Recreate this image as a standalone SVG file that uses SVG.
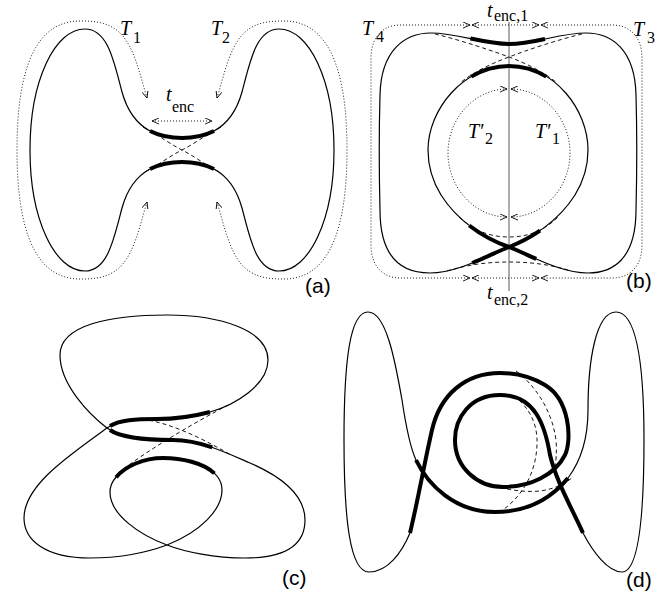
<svg xmlns="http://www.w3.org/2000/svg" width="672" height="593" viewBox="0 0 672 593">
<defs>
<style>
.thin{fill:none;stroke:#000;stroke-width:1.2}
.thick{fill:none;stroke:#000;stroke-width:4}
.dash{fill:none;stroke:#000;stroke-width:0.9;stroke-dasharray:4 3}
.dot{fill:none;stroke:#000;stroke-width:0.9;stroke-dasharray:1 2}
.arr{marker-start:url(#ah);marker-end:url(#ah)}
.gray{fill:none;stroke:#999;stroke-width:1.6}
.it{font-family:"Liberation Serif",serif;font-style:italic;font-size:20px}
.sub{font-family:"Liberation Serif",serif;font-style:normal;font-size:16px}
.lab{font-family:"Liberation Sans",sans-serif;font-size:21px}
</style>
<marker id="ah" viewBox="0 0 8 8" refX="8" refY="4" markerWidth="7" markerHeight="7" markerUnits="userSpaceOnUse" orient="auto-start-reverse">
<path d="M0,0.5 L8,4 L0,7.5" fill="none" stroke="#000" stroke-width="1"/>
</marker>
</defs>
<rect width="672" height="593" fill="#fff"/>

<g id="panel-a">
<path id="qa" class="thin" d="M 30,150 C 30,80 55,29 85,29 C 108,29 114,62 122,92 C 127,110 137,124 150,131 C 160,136 170,138 182,138"/>
<use href="#qa" transform="matrix(-1 0 0 1 364 0)"/>
<use href="#qa" transform="matrix(1 0 0 -1 0 300)"/>
<use href="#qa" transform="matrix(-1 0 0 -1 364 300)"/>
<path id="ta" class="thick" d="M 150,131 C 160,136 170,138 182,138"/>
<use href="#ta" transform="matrix(-1 0 0 1 364 0)"/>
<use href="#ta" transform="matrix(1 0 0 -1 0 300)"/>
<use href="#ta" transform="matrix(-1 0 0 -1 364 300)"/>
<path id="da" class="dash" d="M 143,127 C 160,136 170,144 182,150 C 194,156 204,164 221,173"/>
<use href="#da" transform="matrix(-1 0 0 1 364 0)"/>
<path id="pa" class="dot arr" d="M 147,98 C 140,75 135,50 122,35 C 110,22 95,21 80,21 C 35,21 17,70 17,150 C 17,230 35,279 80,279 C 95,279 110,278 122,265 C 135,250 140,225 147,202"/>
<use href="#pa" transform="matrix(-1 0 0 1 364 0)"/>
<path class="dot arr" d="M 152,121 L 212,121"/>
<text class="it" x="120" y="35">T<tspan class="sub" x="133" y="43">1</tspan></text>
<text class="it" x="211" y="35">T<tspan class="sub" x="222" y="43">2</tspan></text>
<text class="it" x="166" y="101">t<tspan class="sub" x="172" y="112">enc</tspan></text>
<text class="lab" x="305" y="293">(a)</text>
</g>

<g id="panel-b">
<path class="gray" d="M 509,22 L 509,291"/>
<path class="thin" d="M 509,247 C 530,255 560,273 588,273 C 612,273 636,260 636,210 C 637,170 637,130 636,95 C 635,50 612,33 586,33 C 560,33 535,44 509,44 C 483,44 458,33 431,33 C 405,33 381,50 380,95 C 379,130 379,170 380,210 C 380,260 404,273 430,273 C 458,273 488,255 509,247 C 530,239 558,222 575,195 C 583,182 588,165 588,150 C 588,110 555,66 509,66 C 463,66 428,110 428,150 C 428,165 433,182 441,195 C 458,222 486,239 509,247 Z"/>
<path class="thick" d="M 470.4,38.5 C 483.25,41.25 496,44 509,44 C 522,44 534.75,41.25 545,39"/>
<path class="thick" d="M 471.2,76.6 C 482.4,70 495.2,66 509,66 C 522.8,66 535.4,70 546.3,76.6"/>
<path class="thick" d="M 469.2,225.5 C 482.2,235.5 496.35,242.6 509,247 C 517,250 526.3,254.5 536.2,258.9"/>
<path class="thick" d="M 472.1,263 C 485.75,257.5 498.5,251 509,247 C 518.45,243.4 529.3,238 540,230.7"/>
<path class="dash" d="M 435,34 C 460,40 490,50 509,57 C 528,64 545,73 557,83"/>
<path class="dash" d="M 582,34 C 557,40 527,50 509,57 C 490,64 472,73 460,83"/>
<path class="dash" d="M 459,217 C 475,232 492,237 509,237 C 526,237 543,232 558,217"/>
<path class="dash" d="M 447,271 C 470,264 490,262 509,262 C 528,262 548,264 568,270"/>
<path class="dot arr" d="M 470,25 L 400,25 C 383,25 371,37 371,58 L 371,245 C 371,266 383,278 400,278 L 470,278"/>
<path class="dot arr" d="M 541,25 L 612,25 C 630,25 642,37 642,58 L 642,245 C 642,266 630,278 612,278 L 541,278"/>
<path class="dot arr" d="M 472,25 L 539,25"/>
<path class="dot arr" d="M 472,278 L 539,278"/>
<path class="dot arr" d="M 507,89 C 475.3,89 448,117.7 448,153 C 448,188.3 475.3,217 507,217"/>
<path class="dot arr" d="M 511,89 C 542.7,89 570,117.7 570,153 C 570,188.3 542.7,217 511,217"/>
<text class="it" x="362" y="35">T<tspan class="sub" x="376" y="42">4</tspan></text>
<text class="it" x="633" y="36">T<tspan class="sub" x="647" y="43">3</tspan></text>
<text class="it" x="487" y="17">t<tspan class="sub" x="494" y="21">enc,1</tspan></text>
<text class="it" x="487" y="299">t<tspan class="sub" x="494" y="305">enc,2</tspan></text>
<text class="it" x="468" y="138">T′<tspan class="sub" x="485" y="144">2</tspan></text>
<text class="it" x="535" y="138">T′<tspan class="sub" x="552" y="144">1</tspan></text>
<text class="lab" x="626" y="288">(b)</text>
</g>

<g id="panel-c">
<path class="thin" d="M 107,428 C 118,420 135,419 157,419 C 180,419 195,416 210,412 C 235,405 268,385 268,360 C 268,330 220,315 167,315 C 110,315 60,325 60,355 C 60,385 90,415 107,428 C 118,436 140,440 173,440 C 200,440 225,452 250,463 C 280,476 305,495 305,520 C 305,545 285,558 245,558 C 215,558 185,552 167,545 C 140,535 110,515 110,492 C 110,475 135,458 163,458 C 190,458 222,468 222,490 C 222,510 200,532 167,545 C 140,555 115,558 90,558 C 45,558 24,540 24,518 C 24,485 70,455 107,428 Z"/>
<path class="thick" d="M 110,426 C 120,420 135,419 157,419 C 180,419 195,416 210,412"/>
<path class="thick" d="M 110,430 C 120,437 140,440 173,440 C 186.5,440 199.5,443 212.25,447.4"/>
<path class="thick" d="M 116.1,477.3 C 125.3,466.3 143.4,458 163,458 C 181.9,458 203.25,462.9 214.4,473.4"/>
<path class="dash" d="M 142,419 C 170,423 200,437 231,455"/>
<path class="dash" d="M 118,473 C 148,450 190,425 230,404"/>
<text class="lab" x="282" y="585">(c)</text>
</g>

<g id="panel-d">
<path class="thin" d="M 410,533 C 402,552 388,572 369,572 C 350,572 344,520 344,440 C 344,360 350,312 368,312 C 386,312 395,360 402,400 C 405,420 409,445 416,460"/>
<path class="thick" d="M 416,460 C 428,485 455,512 495,512 C 525,512 550,500 568,478"/>
<path class="thin" d="M 568,478 C 580,462 588,440 588,410 C 588,360 596,312 616,312 C 636,312 644,360 644,440 C 644,520 638,572 622,572 C 608,572 593,552 583,533"/>
<path class="thick" d="M 583,533 C 570,505 556,480 550,455 C 545,425 535,395 500,395 C 470,395 455,418 455,440 C 455,468 478,487 503,487 C 530,487 555,475 565,455 C 572,440 570,400 545,385 C 530,376 515,373 500,373 C 465,373 440,395 432,430 C 425,460 418,500 410,533"/>
<path class="dash" d="M 516,371 C 535,385 552,410 556,440 C 557,452 556,462 554.5,470"/>
<path class="dash" d="M 514,396 C 530,408 538,425 537,445 C 536,470 525,495 500,512"/>
<path class="dash" d="M 468,474 C 490,488 520,493 540,491 C 555,489 566,483 573,477"/>
<text class="lab" x="626" y="587">(d)</text>
</g>
</svg>
